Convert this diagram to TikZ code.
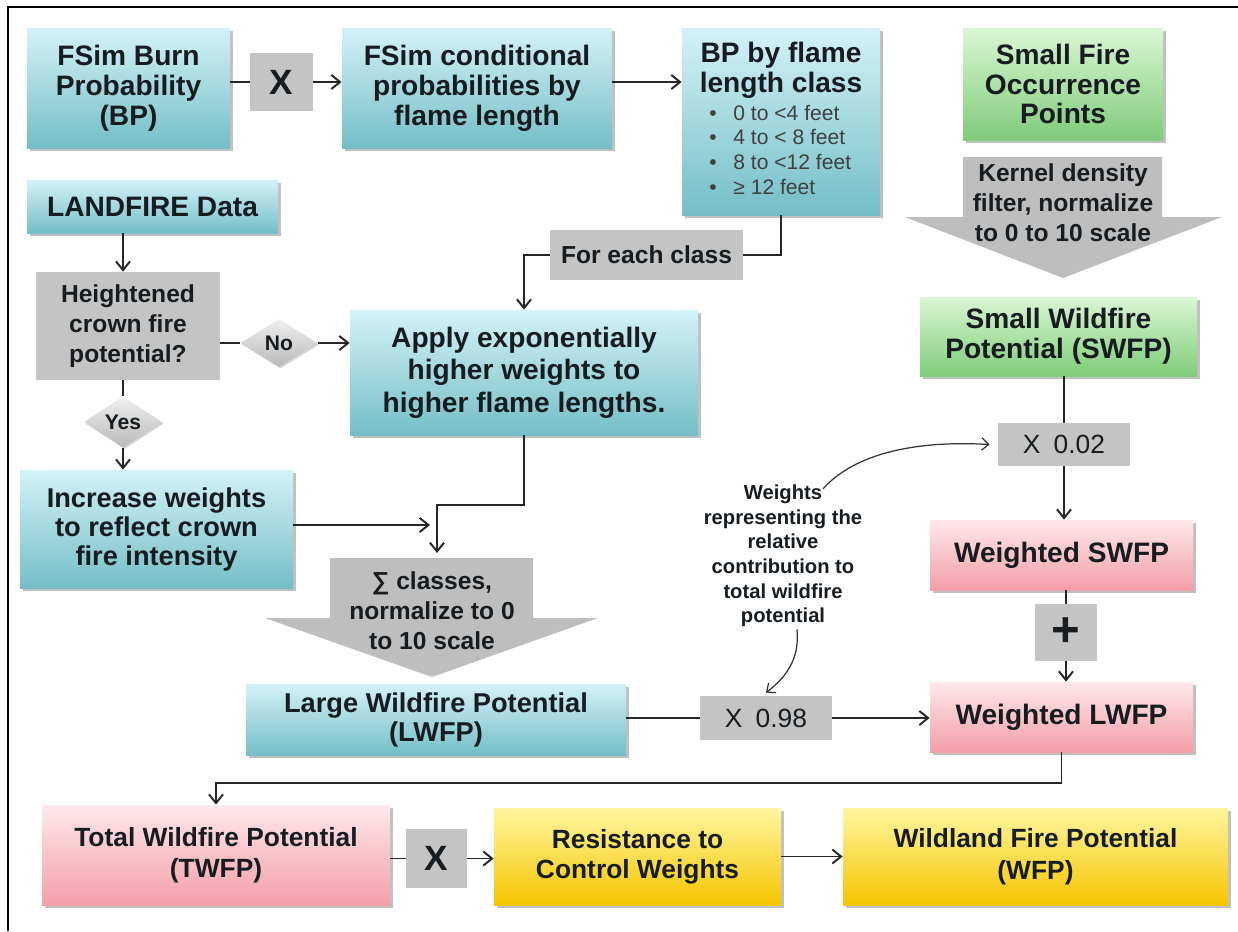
\documentclass[tikz,border=0pt]{standalone}
\usepackage{fontspec}
\setmainfont{Liberation Sans}
\usetikzlibrary{arrows.meta,shapes.geometric,shadows,calc}
\newdimen\pxu \pxu=0.02cm
\definecolor{txt}{RGB}{22,28,32}
\definecolor{tealT}{RGB}{212,242,246}
\definecolor{tealB}{RGB}{116,190,200}
\definecolor{greenT}{RGB}{218,246,212}
\definecolor{greenB}{RGB}{128,204,122}
\definecolor{pinkT}{RGB}{255,232,236}
\definecolor{pinkB}{RGB}{244,158,168}
\definecolor{yellT}{RGB}{255,246,160}
\definecolor{yellB}{RGB}{246,196,0}
\definecolor{grayF}{RGB}{196,196,196}
\definecolor{bigF}{RGB}{190,190,190}
\tikzset{
  box/.style={inner sep=0pt, align=center, text=txt,
    font=\fontsize{16}{17}\selectfont\bfseries,
    drop shadow={shadow xshift=2.5\pxu, shadow yshift=-2.5\pxu, opacity=0.35, fill=black!70}},
  tealbox/.style={box, top color=tealT, bottom color=tealB},
  greenbox/.style={box, top color=greenT, bottom color=greenB},
  pinkbox/.style={box, top color=pinkT, bottom color=pinkB},
  yellowbox/.style={box, top color=yellT, bottom color=yellB},
  graybox/.style={inner sep=0pt, align=center, text=txt, fill=grayF,
    font=\fontsize{16}{17}\selectfont\bfseries},
  decision/.style={diamond, inner sep=0pt, top color=gray!12, bottom color=gray!55,
    text=txt, font=\fontsize{12}{14}\selectfont\bfseries,
    drop shadow={shadow xshift=1.5\pxu, shadow yshift=-1.5\pxu, opacity=0.25, fill=black!70}},
  bigarrow/.style={fill=bigF},
  bigtext/.style={inner sep=0pt, align=center, text=txt, font=\fontsize{14}{17}\selectfont\bfseries},
  conn/.style={draw=black!85, line width=1.1pt},
  arr/.style={conn, -{Straight Barb[length=5pt,width=8pt]}},
  note/.style={draw=black!80, line width=0.7pt, -{Straight Barb[length=4pt,width=7pt]}},
  bul/.style={anchor=base west, inner sep=0pt, text=black!75, font=\fontsize{12}{14}\selectfont},
}
\begin{document}
\begin{tikzpicture}[x=0.02cm, y=-0.02cm]
\useasboundingbox (0,0) rectangle (1238,931);
\fill[white] (0,0) rectangle (1238,931);
\draw[line width=1.3pt, black] (8,931) -- (8,7) -- (1238,7);

% top row
\node[tealbox, minimum width=203\pxu, minimum height=120\pxu] (bp) at (128.5,88) {FSim Burn\\Probability\\(BP)};
\node[graybox, minimum width=63\pxu, minimum height=58\pxu, font=\fontsize{20}{22}\selectfont\bfseries] (x1) at (281.5,82) {X};
\node[tealbox, minimum width=270\pxu, minimum height=120\pxu] (cond) at (477,88) {FSim conditional\\probabilities by\\flame length};
\node[tealbox, minimum width=198\pxu, minimum height=187\pxu] (bpc) at (781,121.5) {};
\node[inner sep=0pt, align=center, text=txt, font=\fontsize{16}{17}\selectfont\bfseries] (bpct) at (781,70) {BP by flame\\length class};
\node[bul] (b1) at (709,120) {\makebox[24\pxu][l]{•}0 to <4 feet};
\node[bul] (b2) at (709,144) {\makebox[24\pxu][l]{•}4 to < 8 feet};
\node[bul] (b3) at (709,169) {\makebox[24\pxu][l]{•}8 to <12 feet};
\node[bul] (b4) at (709,194) {\makebox[24\pxu][l]{•}≥ 12 feet};
\node[greenbox, minimum width=200\pxu, minimum height=112\pxu] (sfo) at (1063,84) {Small Fire\\Occurrence\\Points};

% kernel arrow
\fill[bigarrow] (963,157) -- (1162,157) -- (1162,217) -- (1222,217) -- (1063,278) -- (905,217) -- (963,217) -- cycle;
\node[bigtext] (kern) at (1063,203) {Kernel density\\filter, normalize\\to 0 to 10 scale};

% left column
\node[tealbox, minimum width=251\pxu, minimum height=53\pxu] (landfire) at (152.5,206.5) {LANDFIRE Data};
\node[graybox, minimum width=184\pxu, minimum height=108\pxu, font=\fontsize{14}{17}\selectfont\bfseries] (heig) at (128,326) {Heightened\\crown fire\\potential?};
\node[decision, minimum width=77\pxu, minimum height=48\pxu] (no) at (279,343) {No};
\node[decision, minimum width=78\pxu, minimum height=43\pxu] (yes) at (123,422) {Yes};
\node[tealbox, minimum width=273\pxu, minimum height=118\pxu, font=\fontsize{15.5}{16.5}\selectfont\bfseries] (incr) at (156.5,529) {Increase weights\\to reflect crown\\fire intensity};

% middle
\node[graybox, minimum width=193\pxu, minimum height=50\pxu, font=\fontsize{14}{16}\selectfont\bfseries] (foreach) at (646.5,255) {For each class};
\node[tealbox, minimum width=348\pxu, minimum height=125\pxu, font=\fontsize{16}{18.5}\selectfont\bfseries] (apply) at (524,372.5) {Apply exponentially\\higher weights to\\higher flame lengths.};

\fill[bigarrow] (330,558) -- (533,558) -- (533,618) -- (598,618) -- (432,677) -- (265,618) -- (330,618) -- cycle;
\node[bigtext] (sum) at (432,611) {∑ classes,\\normalize to 0\\to 10 scale};
\node[tealbox, minimum width=380\pxu, minimum height=71\pxu, font=\fontsize{15.5}{16.5}\selectfont\bfseries] (lwfp) at (436,719.5) {Large Wildfire Potential\\(LWFP)};

% right column
\node[greenbox, minimum width=277\pxu, minimum height=79\pxu] (swfp) at (1058.5,336.5) {Small Wildfire\\Potential (SWFP)};
\node[graybox, minimum width=132\pxu, minimum height=43\pxu, font=\fontsize{15}{17}\selectfont] (x002) at (1064,444.5) {X\enspace 0.02};
\node[pinkbox, minimum width=263\pxu, minimum height=70\pxu] (wswfp) at (1061.5,555) {Weighted SWFP};
\node[graybox, minimum width=62\pxu, minimum height=57\pxu, font=\fontsize{28}{28}\selectfont\bfseries] (plus) at (1066,632.5) {+};
\node[pinkbox, minimum width=263\pxu, minimum height=70\pxu] (wlwfp) at (1061.5,717) {Weighted LWFP};
\node[graybox, minimum width=132\pxu, minimum height=44\pxu, font=\fontsize{15}{17}\selectfont] (x098) at (766,718) {X\enspace 0.98};

\node[inner sep=0pt, align=center, text=txt, font=\fontsize{11.5}{14}\selectfont\bfseries] (notetxt) at (783,556) {Weights\\representing the\\relative\\contribution to\\total wildfire\\potential};

% bottom row
\node[pinkbox, minimum width=348\pxu, minimum height=100\pxu, font=\fontsize{15}{18}\selectfont\bfseries] (twfp) at (216,855) {Total Wildfire Potential\\(TWFP)};
\node[graybox, minimum width=61\pxu, minimum height=59\pxu, font=\fontsize{20}{22}\selectfont\bfseries] (x3) at (436.5,858.5) {X};
\node[yellowbox, minimum width=287\pxu, minimum height=97\pxu, font=\fontsize{15}{17}\selectfont\bfseries] (resist) at (637.5,856.5) {Resistance to\\Control Weights};
\node[yellowbox, minimum width=385\pxu, minimum height=97\pxu, font=\fontsize{15}{18}\selectfont\bfseries] (wfp) at (1035.5,856.5) {Wildland Fire Potential\\(WFP)};

\coordinate (turnA) at (523,505);
\coordinate (turnB) at (437,553);
\coordinate (incEnd) at (430,525);
\coordinate (turnC) at (600,783);

% connectors
\draw[conn] (bp.east |- x1.west) -- (x1.west);
\draw[arr] (x1.east) -- (x1.east -| cond.west);
\draw[arr] (cond.east |- x1.east) -- (x1.east -| bpc.west);
\draw[conn] (bpc.south) |- (foreach.east);
\draw[arr] (foreach.west) -| (apply.north);
\draw[arr] (yes.north |- landfire.south) -- (yes.north |- heig.north);
\draw[conn] (heig.east |- no.west) -- (no.west);
\draw[arr] (no.east) -- (no.east -| apply.west);
\draw[conn] (yes.north |- heig.south) -- (yes.north);
\draw[arr] (yes.south) -- (yes.south |- incr.north);
\draw[arr] (incr.east |- incEnd) -- (incEnd);
\draw[arr] (apply.south) |- (turnA) -| (turnB);
\draw[conn] (swfp.south -| x002.north) -- (x002.north);
\draw[arr] (x002.south) -- (x002.south |- wswfp.north);
\draw[conn] (plus.north |- wswfp.south) -- (plus.north);
\draw[arr] (plus.south) -- (plus.south |- wlwfp.north);
\draw[conn] (lwfp.east |- x098.west) -- (x098.west);
\draw[arr] (x098.east) -- (x098.east -| wlwfp.west);
\draw[arr] (wlwfp.south) |- (turnC) -| (twfp.north);
\draw[conn] (twfp.east |- x3.west) -- (x3.west);
\draw[arr] (x3.east) -- (x3.east -| resist.west);
\draw[arr] (resist.east) -- (resist.east -| wfp.west);
\draw[note] ([xshift=40\pxu,yshift=-4\pxu]notetxt.north) .. controls (860,448) and (930,441) .. ([xshift=-8\pxu]x002.west);
\draw[note] ([xshift=14\pxu,yshift=-2\pxu]notetxt.south) .. controls (800,660) and (785,678) .. ([yshift=3\pxu]x098.north);
\end{tikzpicture}
\end{document}
